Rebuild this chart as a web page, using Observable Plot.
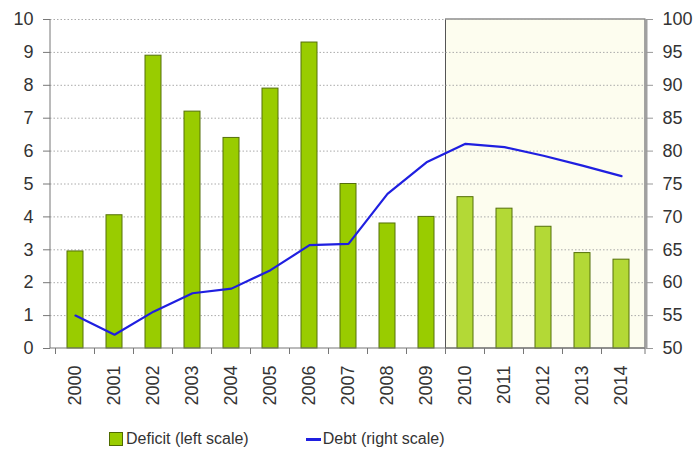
<!DOCTYPE html>
<html>
<head>
<meta charset="utf-8">
<script src="https://cdn.jsdelivr.net/npm/d3@7"></script>
<script src="https://cdn.jsdelivr.net/npm/@observablehq/plot@0.6"></script>
<style>
  html, body { margin: 0; padding: 0; background: #fff; }
  body { width: 695px; height: 451px; overflow: hidden; font-family: "Liberation Sans", Arial, sans-serif; }
  #legend { display: flex; align-items: center; height: 48px; padding-left: 109px; font-size: 16px; color: #333; }
  .item { display: flex; align-items: center; }
  .sw { width: 12px; height: 12px; background: #99cc00; border: 1px solid #4f6b00; margin-right: 3px; }
  .ln { width: 15px; height: 0; border-top: 3px solid #1f1fe0; margin-right: 2px; }
</style>
</head>
<body>
<div id="chart"></div>
<div id="legend">
  <div class="item"><div class="sw"></div><span>Deficit (left scale)</span></div>
  <div class="item" style="margin-left:57px"><div class="ln"></div><span>Debt (right scale)</span></div>
</div>
<script>
const years = ["2000","2001","2002","2003","2004","2005","2006","2007","2008","2009","2010","2011","2012","2013","2014"];
const deficit = [2.95, 4.05, 8.9, 7.2, 6.4, 7.9, 9.3, 5.0, 3.8, 4.0, 4.6, 4.25, 3.7, 2.9, 2.7];
const debt = [55.0, 52.1, 55.6, 58.4, 59.1, 61.9, 65.7, 65.9, 73.5, 78.3, 81.1, 80.6, 79.3, 77.8, 76.2];
const forecastStart = "2010";
const leftTicks = d3.range(0, 11);
const rightMin = 50, rightStep = 5;

const data = years.map((y, i) => ({year: y, deficit: deficit[i], debt: debt[i], forecast: y >= forecastStart}));
const toLeft = v => (v - rightMin) / rightStep;

// custom mark: forecast shading
function frame(index, scales, values, dims) {
  const x = scales.x, y = scales.y;
  const step = x.step(), bw = x.bandwidth();
  const g = d3.create("svg:g");
  const edge = yr => x(yr) - (step - bw) / 2;
  const [r0, r1] = x.range();
  const x0 = edge(forecastStart);
  g.append("rect")
    .attr("x", x0).attr("y", y(10))
    .attr("width", r1 - x0).attr("height", y(0) - y(10))
    .attr("fill", "#fdfdef").attr("stroke", "#555").attr("stroke-width", 1);
  return g.node();
}
// custom mark: axis lines and tick marks between bands
function ticks(index, scales, values, dims) {
  const x = scales.x, y = scales.y;
  const step = x.step(), bw = x.bandwidth();
  const g = d3.create("svg:g").attr("stroke", "#777").attr("stroke-width", 1);
  const y0 = y(0);
  years.forEach(yr => {
    const xe = x(yr) - (step - bw) / 2;
    g.append("line").attr("x1", xe).attr("x2", xe).attr("y1", y0).attr("y2", y0 + 6);
  });
  const [r0, r1] = x.range();
  g.append("line").attr("x1", r1).attr("x2", r1).attr("y1", y0).attr("y2", y0 + 6);
  g.append("line").attr("x1", r0).attr("x2", r1).attr("y1", y0).attr("y2", y0);
  g.append("line").attr("x1", r0).attr("x2", r0).attr("y1", y(10)).attr("y2", y0);
  g.append("line").attr("x1", r1 + 1).attr("x2", r1 + 1).attr("y1", y(10)).attr("y2", y0)
    .attr("stroke", "#a0a0a0").attr("stroke-width", 3);
  return g.node();
}

const chart = Plot.plot({
  width: 695,
  height: 415,
  marginLeft: 50,
  marginRight: 50,
  marginTop: 19,
  marginBottom: 67,
  style: {fontFamily: "Liberation Sans, Arial, sans-serif", fontSize: "18px", color: "#333", background: "#fff"},
  x: {domain: years, paddingInner: 0.6, paddingOuter: 0.3, label: null},
  y: {domain: [0, 10], label: null},
  marks: [
    frame,
    Plot.ruleY(leftTicks.slice(1), {stroke: "#aaa", strokeDasharray: "1.5,2", strokeWidth: 1}),
    Plot.barY(data, {x: "year", y: "deficit", fill: d => d.forecast ? "#b3d936" : "#99cc00", stroke: "#55700a", strokeWidth: 1}),
    Plot.line(data, {x: "year", y: d => toLeft(d.debt), stroke: "#1f1fe0", strokeWidth: 2.2}),
    ticks,
    Plot.axisY({anchor: "left", ticks: leftTicks, tickSize: 7, tickPadding: 10, fontSize: 18, stroke: "#777", label: null}),
    Plot.axisY({anchor: "right", ticks: leftTicks, tickFormat: d => rightMin + rightStep * d, tickSize: 7, tickPadding: 10, fontSize: 18, stroke: "#999", label: null}),
    Plot.axisX({tickRotate: -90, tickSize: 0, tickPadding: 17, fontSize: 18, label: null})
  ]
});
document.getElementById("chart").appendChild(chart);
</script>
</body>
</html>
